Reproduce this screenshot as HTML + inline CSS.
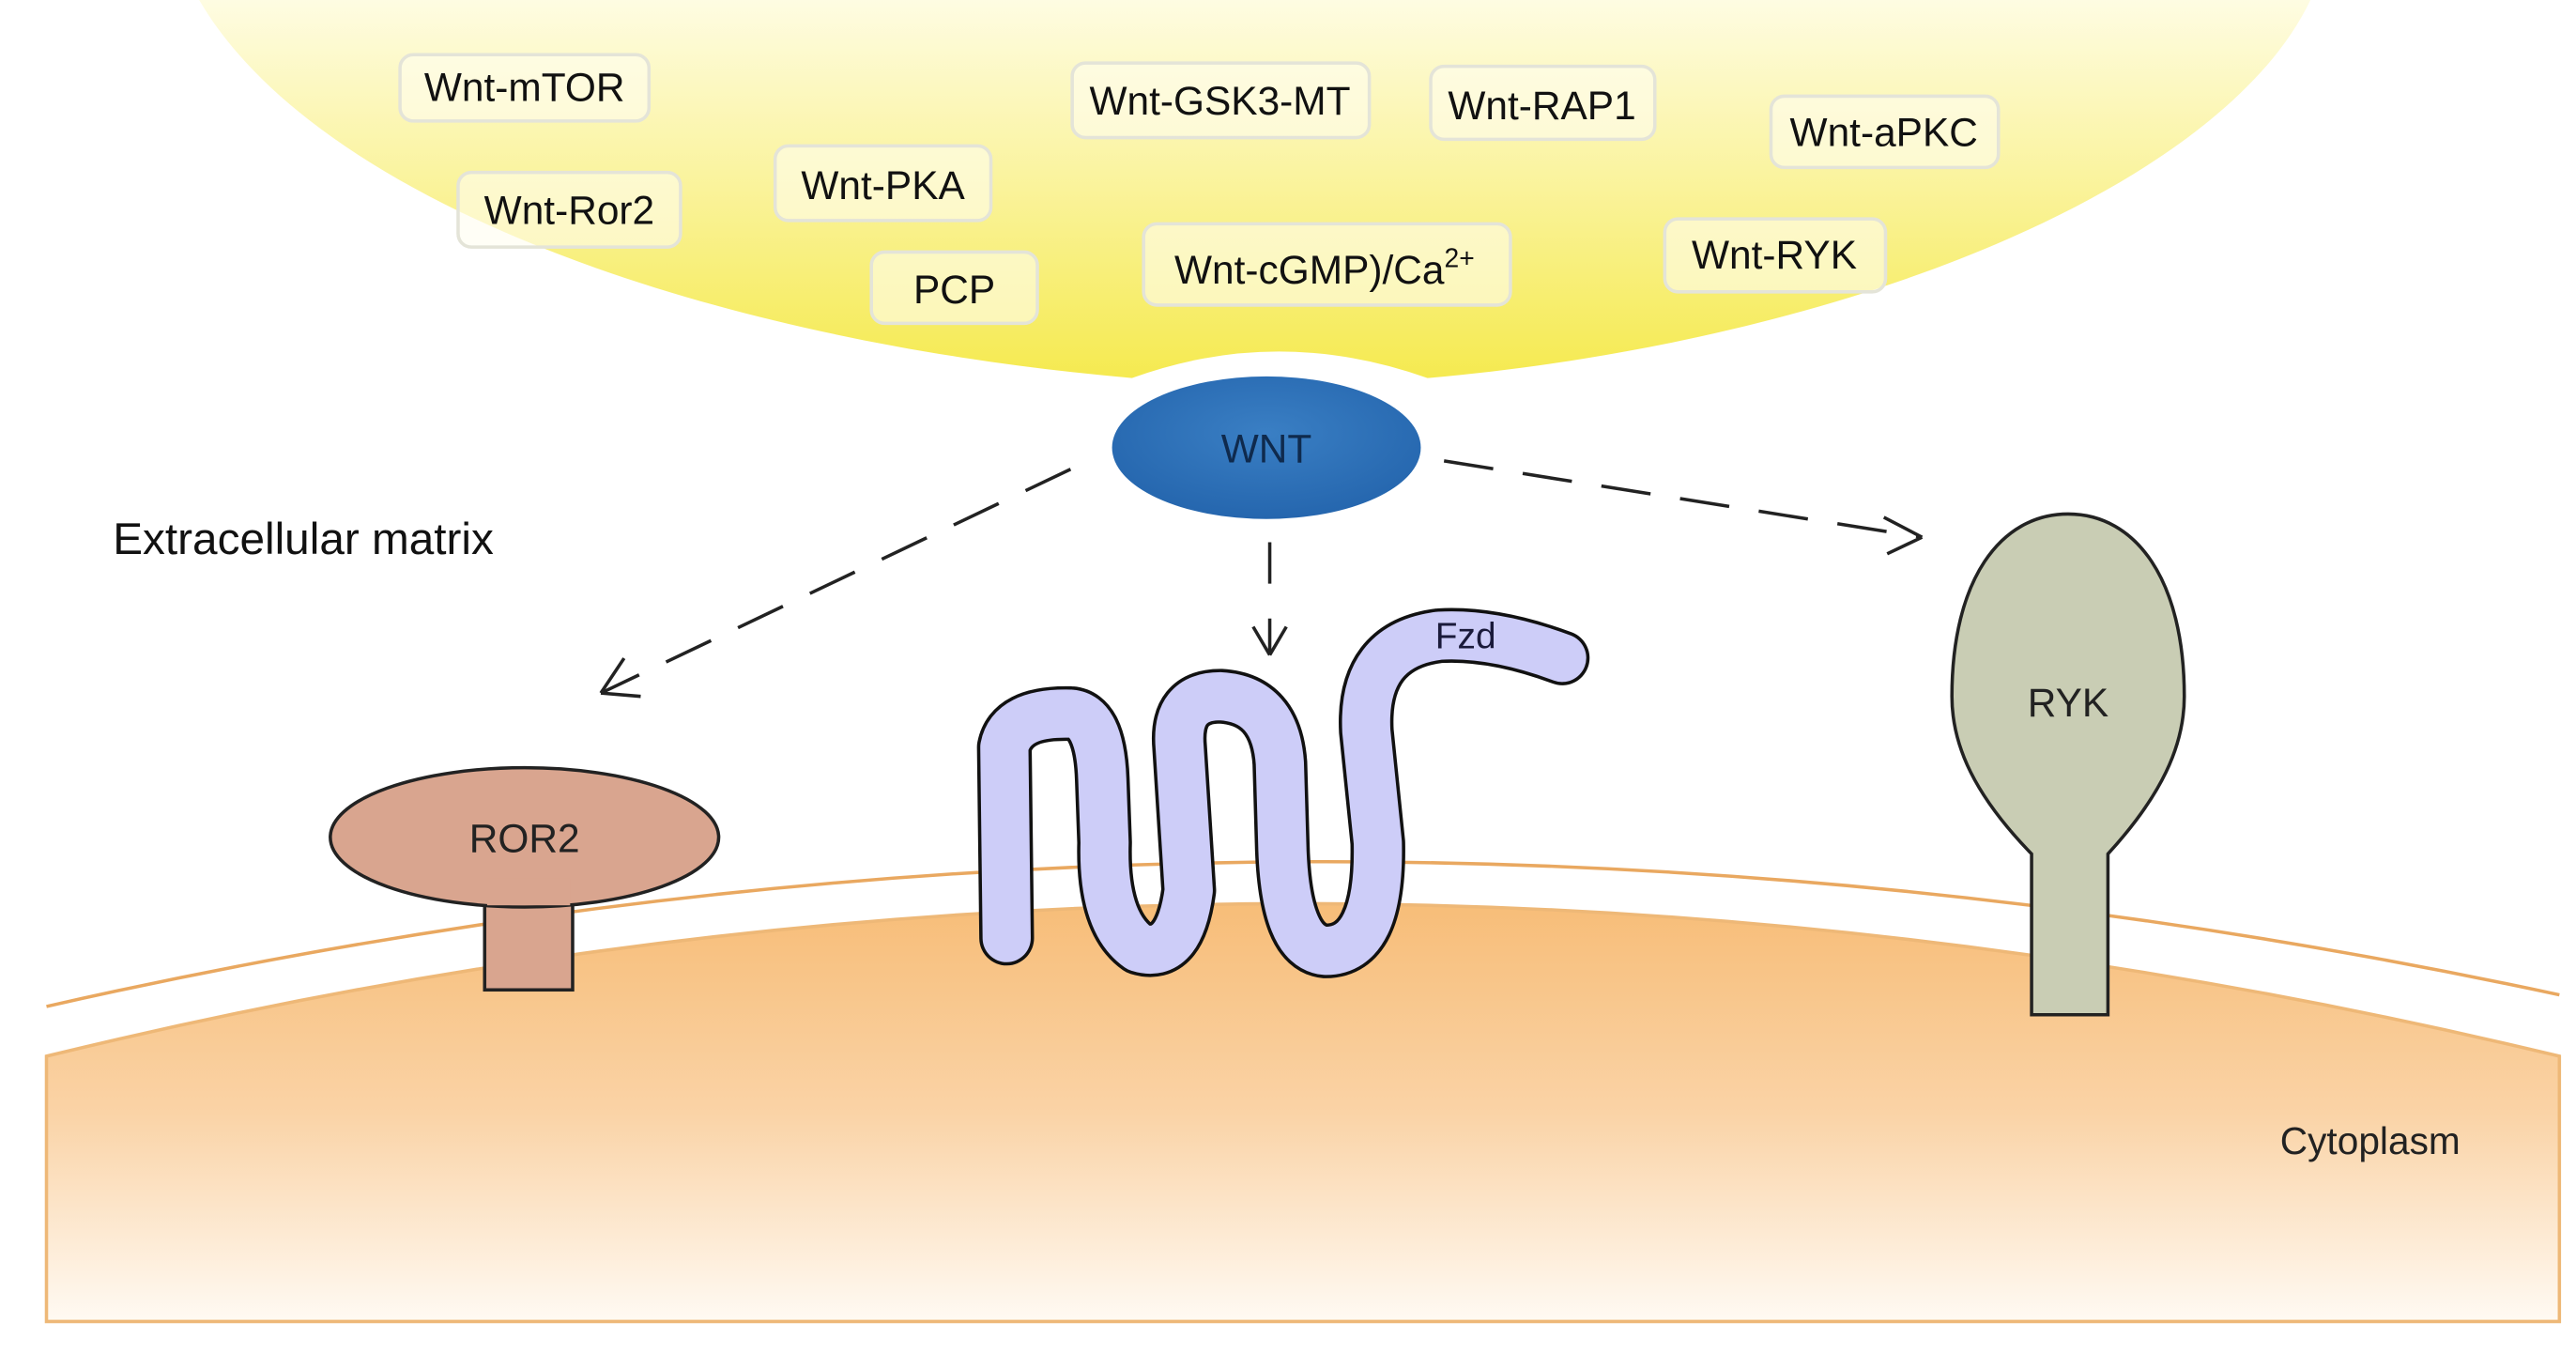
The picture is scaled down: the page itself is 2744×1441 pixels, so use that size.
<!DOCTYPE html>
<html><head><meta charset="utf-8"><style>
html,body{margin:0;padding:0;background:#fff;}
svg{display:block;}
text{font-family:"Liberation Sans",Arial,sans-serif;}
</style></head><body>
<svg width="2744" height="1441" viewBox="0 0 1552 816" preserveAspectRatio="none" xmlns="http://www.w3.org/2000/svg">
<defs>
<linearGradient id="yel" x1="0" y1="0" x2="0" y2="1">
<stop offset="0" stop-color="#fefce2"/>
<stop offset="0.5" stop-color="#faf39a"/>
<stop offset="1" stop-color="#f5ea50"/>
</linearGradient>
<linearGradient id="org" x1="0" y1="0" x2="0" y2="1">
<stop offset="0" stop-color="#f7bd78"/>
<stop offset="0.5" stop-color="#fad3a6"/>
<stop offset="1" stop-color="#fffaf3"/>
</linearGradient>
<radialGradient id="blu" cx="0.5" cy="0.4" r="0.6">
<stop offset="0" stop-color="#3a7fc4"/>
<stop offset="1" stop-color="#2566ae"/>
</radialGradient>
</defs>
<path d="M120,0 L1392,0 C1340,110 1120,205 860,228 Q770,196 682,228 C420,205 190,120 120,0 Z" fill="url(#yel)"/>
<g fill="#fffef0" fill-opacity="0.6" stroke="#e4e4d8" stroke-width="2">
<rect x="241" y="33" width="150" height="40" rx="8"/>
<rect x="276" y="104" width="134" height="45" rx="8"/>
<rect x="467" y="88" width="130" height="45" rx="8"/>
<rect x="525" y="152" width="100" height="43" rx="8"/>
<rect x="646" y="38" width="179" height="45" rx="8"/>
<rect x="862" y="40" width="135" height="44" rx="8"/>
<rect x="1067" y="58" width="137" height="43" rx="8"/>
<rect x="689" y="135" width="221" height="49" rx="8"/>
<rect x="1003" y="132" width="133" height="44" rx="8"/>
</g>
<g font-size="24" fill="#111" text-anchor="middle">
<text x="316" y="61">Wnt-mTOR</text>
<text x="343" y="135">Wnt-Ror2</text>
<text x="532" y="120">Wnt-PKA</text>
<text x="575" y="183">PCP</text>
<text x="735" y="69">Wnt-GSK3-MT</text>
<text x="929" y="72">Wnt-RAP1</text>
<text x="1135" y="88">Wnt-aPKC</text>
<text x="798" y="171">Wnt-cGMP)/Ca<tspan font-size="16" dy="-10">2+</tspan></text>
<text x="1069" y="162">Wnt-RYK</text>
</g>
<path d="M28,607 Q780,436 1542,600" fill="none" stroke="#e9a860" stroke-width="2"/>
<path d="M28,637 Q780,453 1542,637 L1542,797 L28,797 Z" fill="url(#org)" stroke="#eeb877" stroke-width="2"/>
<ellipse cx="763" cy="270" rx="93" ry="43" fill="url(#blu)"/>
<text x="763" y="279" font-size="24" fill="#0f2a4d" text-anchor="middle">WNT</text>
<text x="68" y="334" font-size="27" fill="#111">Extracellular matrix</text>
<g stroke="#222" stroke-width="2" fill="none">
<path d="M645,283 L362,418" stroke-dasharray="30,18"/>
<path d="M362,418 L376,397 M362,418 L386,420"/>
<path d="M870,278 L1158,324" stroke-dasharray="30,18"/>
<path d="M1158,324 L1135,312 M1158,324 L1137,334"/>
<path d="M765,327 L765,352 M765,373 L765,395"/>
<path d="M765,395 L755,378 M765,395 L775,378"/>
</g>
<rect x="292" y="532" width="53" height="65" fill="#d9a58f" stroke="#222" stroke-width="2"/>
<ellipse cx="316" cy="505" rx="117" ry="42" fill="#d9a58f" stroke="#222" stroke-width="2"/>
<rect x="293.5" y="530" width="50" height="16" fill="#d9a58f"/>
<text x="316" y="514" font-size="24" fill="#222" text-anchor="middle">ROR2</text>
<path d="M1224,612 L1224,515 C1190,480 1176,450 1176,420 C1176,350 1205,310 1246,310 C1287,310 1316,350 1316,420 C1316,450 1302,480 1270,515 L1270,612 Z" fill="#c9cdb4" stroke="#222" stroke-width="2"/>
<text x="1246" y="432" font-size="24" fill="#222" text-anchor="middle">RYK</text>
<path d="M606.5,565.8 L605.1,450.6 Q609.2,429.5 644.9,430.4 Q662.7,431.4 664.1,469.8 L665.5,508.2 Q664.1,556.2 686,571.6 Q710.7,579.2 716.2,537 L710.7,450.6 Q708,419.9 735.4,419.9 Q768.4,421.8 771.1,460.2 L772.5,508.2 Q773.9,571.6 798.6,573.5 Q831.5,573.5 830.1,508.2 L823.2,441 Q820.5,389.2 867.2,383.4 Q900.1,381.5 941.2,396.8" fill="none" stroke="#111" stroke-width="33" stroke-linecap="round" stroke-linejoin="round"/>
<path d="M606.5,565.8 L605.1,450.6 Q609.2,429.5 644.9,430.4 Q662.7,431.4 664.1,469.8 L665.5,508.2 Q664.1,556.2 686,571.6 Q710.7,579.2 716.2,537 L710.7,450.6 Q708,419.9 735.4,419.9 Q768.4,421.8 771.1,460.2 L772.5,508.2 Q773.9,571.6 798.6,573.5 Q831.5,573.5 830.1,508.2 L823.2,441 Q820.5,389.2 867.2,383.4 Q900.1,381.5 941.2,396.8" fill="none" stroke="#cdcdf8" stroke-width="29" stroke-linecap="round" stroke-linejoin="round"/>
<text x="883" y="391" font-size="22" fill="#1a1a3a" text-anchor="middle">Fzd</text>
<text x="1428" y="696" font-size="23" fill="#222" text-anchor="middle">Cytoplasm</text>
</svg>
</body></html>
